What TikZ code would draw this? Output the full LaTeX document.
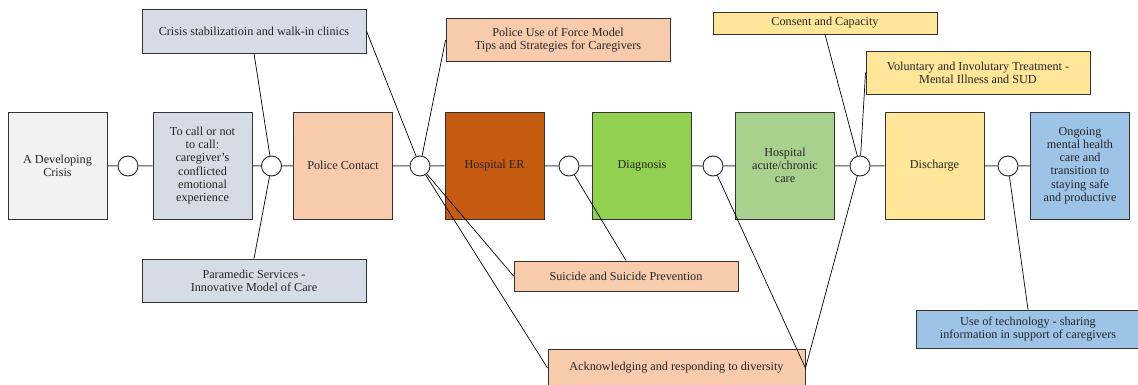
\documentclass[tikz,border=0pt]{standalone}
\usepackage{fontspec}
\setmainfont{Liberation Serif}
\usepackage{tikz}

\definecolor{cgray}{HTML}{F2F2F2}
\definecolor{cslate}{HTML}{D6DCE5}
\definecolor{cpeach}{HTML}{F8CBAD}
\definecolor{crust}{HTML}{C55A11}
\definecolor{cgreen}{HTML}{92D050}
\definecolor{csage}{HTML}{A9D18E}
\definecolor{cyellow}{HTML}{FFE699}
\definecolor{cblue}{HTML}{9DC3E6}

\begin{document}
\begin{tikzpicture}[x=1pt,y=-1pt,
  every node/.style={font=\fontsize{12.2}{13.2}\selectfont,text=black!85},
  stage/.style={draw=black!80,line width=0.9pt,minimum width=99pt,minimum height=107pt,align=center,inner sep=1pt},
  topic/.style={draw=black!80,line width=0.9pt,minimum width=224pt,align=center,inner sep=1pt},
  joint/.style={circle,draw=black!85,fill=white,minimum size=20pt,inner sep=0pt,line width=0.9pt}]
  \useasboundingbox (0,0) rectangle (1138,385);
  % stages along the pathway
  \node[stage,fill=cgray]   (b1) at (57.5,165.5) {A Developing\\Crisis};
  \node[stage,fill=cslate]  (b2) at (202.5,165.5) {To call or not\\to call:\\caregiver's\\conflicted\\emotional\\experience};
  \node[stage,fill=cpeach]  (b3) at (343,165.5) {Police Contact};
  \node[stage,fill=crust]   (b4) at (494.5,165.5) {Hospital ER};
  \node[stage,fill=cgreen]  (b5) at (642,165.5) {Diagnosis};
  \node[stage,fill=csage]   (b6) at (785,165.5) {Hospital\\acute/chronic\\care};
  \node[stage,fill=cyellow] (b7) at (934.5,165.5) {Discharge};
  \node[stage,fill=cblue]   (b8) at (1080,165.5) {Ongoing\\mental health\\care and\\transition to\\staying safe\\and productive};
  \foreach \i/\x in {1/128,2/271.5,3/420,4/569,5/713,6/860,7/1008}{\node[joint] (c\i) at (\x,166) {};}
  \draw[black!75,line width=0.9pt] (b1)--(c1)--(b2)--(c2)--(b3)--(c3)--(b4)--(c4)--(b5)--(c5)--(b6)--(c6)--(b7)--(c7)--(b8);
  % topics
  \node[topic,fill=cslate,minimum height=44pt]  (t1) at (254,31) {Crisis stabilizatioin and walk-in clinics};
  \node[topic,fill=cpeach,minimum height=43pt]  (t2) at (558,40) {Police Use of Force Model\\Tips and Strategies for Caregivers};
  \node[topic,fill=cyellow,minimum height=22pt] (t3) at (825,23) {Consent and Capacity};
  \node[topic,fill=cyellow,minimum height=43pt] (t4) at (978,72.5) {Voluntary and Involutary Treatment -\\Mental Illness and SUD};
  \node[topic,fill=cslate,minimum height=43pt]  (t5) at (254,280.5) {Paramedic Services -\\Innovative Model of Care};
  \node[topic,fill=cpeach,minimum height=30pt]  (t6) at (626,276) {Suicide and Suicide Prevention};
  \node[topic,fill=cpeach,minimum width=257pt,minimum height=38pt] (t7) at (676.5,368) {Acknowledging and responding to diversity};
  \node[topic,fill=cblue,minimum height=38pt]   (t8) at (1028,329) {Use of technology - sharing\\information in support of caregivers};
  % links
  \draw[black,line width=0.7pt] (t1.south)--(c2)--(t5.north);
  \draw[black,line width=0.7pt] (t1.east)--(c3)--(t2.west);
  \draw[black,line width=0.7pt] (c3)--(t6.west);
  \draw[black,line width=0.7pt] (c3)--(t7.west);
  \draw[black,line width=0.7pt] (c4)--(t6.north);
  \draw[black,line width=0.7pt] (c5)--(t7.east)--(c6);
  \draw[black,line width=0.7pt] (t3.south)--(c6)--(t4.west);
  \draw[black,line width=0.7pt] (c7)--(t8.north);
\end{tikzpicture}
\end{document}
